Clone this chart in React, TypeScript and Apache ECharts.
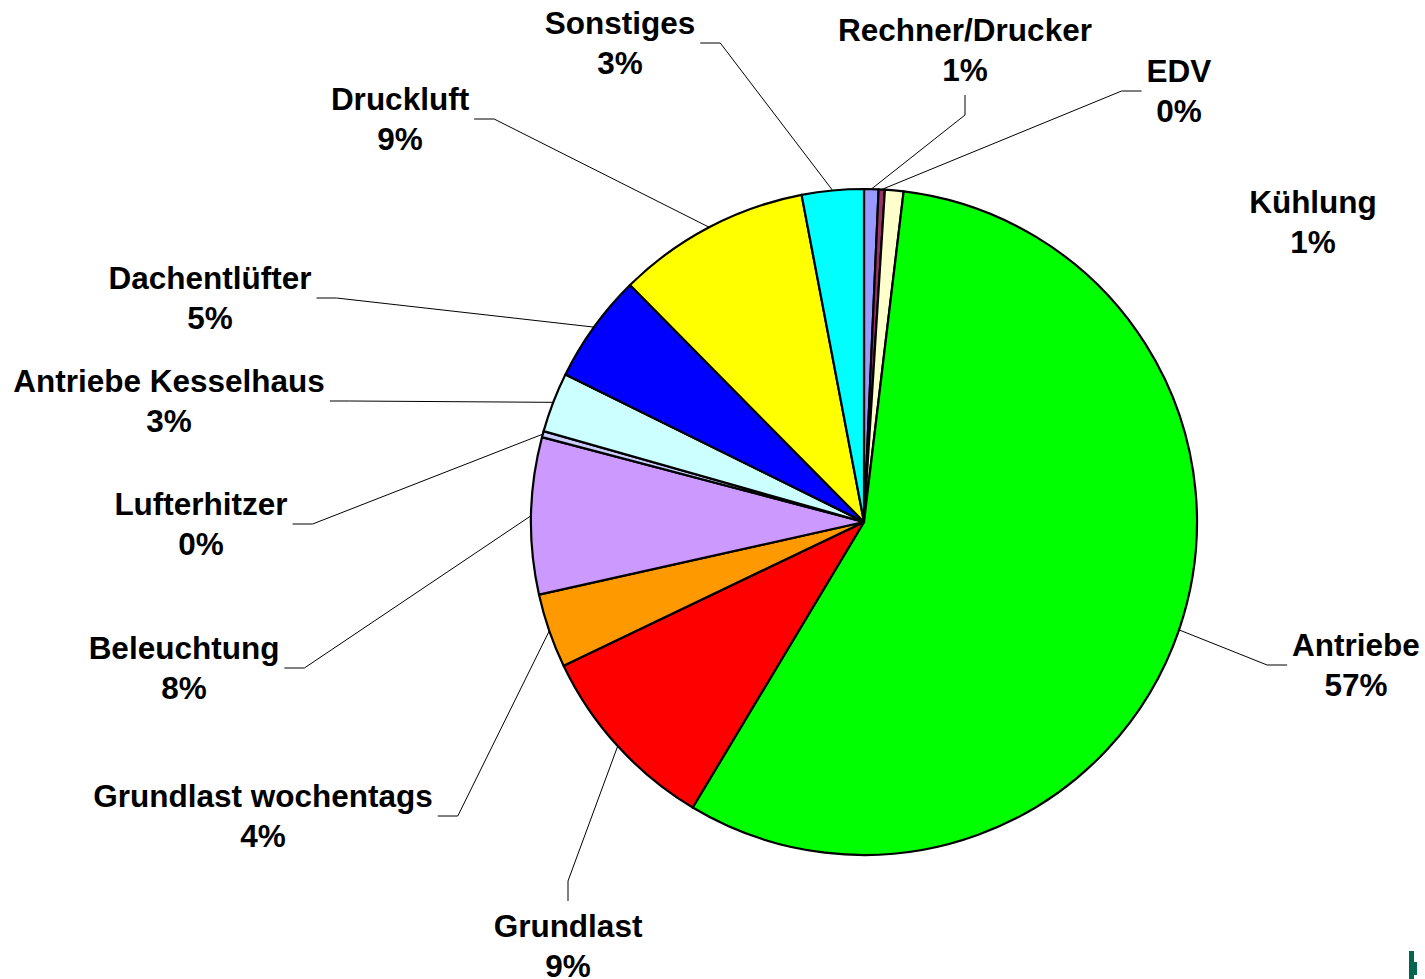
import React, { useEffect, useRef } from "react";
import * as echarts from "echarts";

const categories = [
  "Rechner/Drucker",
  "EDV",
  "Kühlung",
  "Antriebe",
  "Grundlast",
  "Grundlast wochentags",
  "Beleuchtung",
  "Lufterhitzer",
  "Antriebe Kesselhaus",
  "Dachentlüfter",
  "Druckluft",
  "Sonstiges",
];
const values = [0.7, 0.3, 0.9, 56.7, 9.3, 3.6, 7.6, 0.3, 2.9, 5.3, 9.4, 3.0];
const colors = [
  "#9999ff",
  "#993366",
  "#ffffcc",
  "#00ff00",
  "#ff0000",
  "#ff9900",
  "#cc99ff",
  "#ccccff",
  "#ccffff",
  "#0000ff",
  "#ffff00",
  "#00ffff",
];

// Manual label placement (label block centre) and side where the leader line attaches
const labelPlacement = [
  { x: 965, y: 50, side: "bottom" },
  { x: 1179, y: 91, side: "left" },
  { x: 1313, y: 222, side: "none" },
  { x: 1356, y: 665, side: "left" },
  { x: 568, y: 946, side: "top" },
  { x: 263, y: 816, side: "right" },
  { x: 184, y: 668, side: "right" },
  { x: 201, y: 524, side: "right" },
  { x: 169, y: 401, side: "right" },
  { x: 210, y: 298, side: "right" },
  { x: 400, y: 119, side: "right" },
  { x: 620, y: 43, side: "right" },
];

export default function App() {
  const ref = useRef<HTMLDivElement>(null);
  useEffect(() => {
    if (!ref.current) return;
    const chart = echarts.init(ref.current, null, { renderer: "svg" });
    const data = categories.map((name, i) => ({
      name,
      value: values[i],
      itemStyle: { color: colors[i] },
      labelLine: { show: labelPlacement[i].side !== "none" },
    }));
    chart.setOption({
      animation: false,
      backgroundColor: "#ffffff",
      series: [
        {
          type: "pie",
          center: [864, 522],
          radius: 333,
          startAngle: 90,
          clockwise: true,
          avoidLabelOverlap: false,
          data,
          itemStyle: { borderColor: "#000000", borderWidth: 2.2 },
          emphasis: { disabled: true },
          label: {
            show: true,
            position: "outside",
            formatter: (p: any) => `${p.name}\n${Math.round(p.percent)}%`,
            fontFamily: "Liberation Sans, Arial, sans-serif",
            fontWeight: "bold",
            fontSize: 31.5,
            lineHeight: 40,
            color: "#000000",
            overflow: "none",
          },
          labelLine: {
            show: true,
            lineStyle: { color: "#000000", width: 1 },
          },
          labelLayout: (params: any) => {
            const i = params.dataIndex;
            const p = labelPlacement[i];
            const w = params.labelRect.width;
            const h = params.labelRect.height;
            const res: any = {
              x: p.x,
              y: p.y,
              align: "center",
              verticalAlign: "middle",
            };
            const pts = params.labelLinePoints;
            if (pts && pts.length && p.side !== "none") {
              const start = pts[0];
              const gap = 5;
              const seg = 20;
              let end: number[];
              let knee: number[];
              if (p.side === "right") {
                end = [p.x + w / 2 + gap, p.y];
                knee = [end[0] + seg, end[1]];
              } else if (p.side === "left") {
                end = [p.x - w / 2 - gap, p.y];
                knee = [end[0] - seg, end[1]];
              } else if (p.side === "bottom") {
                end = [p.x, p.y + h / 2 + gap];
                knee = [end[0], end[1] + seg];
              } else {
                end = [p.x, p.y - h / 2 - gap];
                knee = [end[0], end[1] - seg];
              }
              res.labelLinePoints = [start, knee, end];
            }
            return res;
          },
        },
      ],
      graphic: [
        {
          type: "rect",
          shape: { x: 1409, y: 951, width: 5, height: 28 },
          style: { fill: "#006650" },
        },
        {
          type: "rect",
          shape: { x: 1413, y: 962, width: 4, height: 13 },
          style: { fill: "#006650" },
        },
      ],
    });
    return () => chart.dispose();
  }, []);
  return (
    <div
      ref={ref}
      style={{ position: "fixed", left: 0, top: 0, width: 1425, height: 979 }}
    />
  );
}
